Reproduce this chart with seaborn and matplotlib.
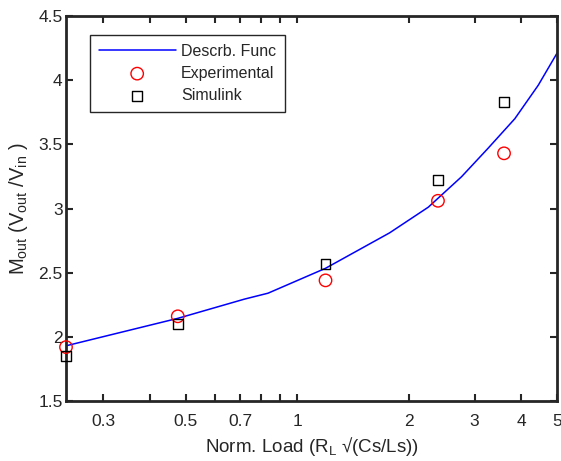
import matplotlib
matplotlib.use("Agg")
import matplotlib.pyplot as plt
import matplotlib.ticker as mticker
import seaborn as sns
import pandas as pd

# Describing-function curve
df_x = [0.238, 0.476, 0.72, 0.833, 1.19, 1.77, 2.25, 2.765, 3.26, 3.85, 4.45, 5.0]
df_y = [1.93, 2.144, 2.294, 2.34, 2.534, 2.81, 3.01, 3.247, 3.469, 3.70, 3.96, 4.21]

# Measured points
load_x = [0.238, 0.476, 1.19, 2.39, 3.6]
exp_y = [1.92, 2.16, 2.44, 3.06, 3.43]
sim_y = [1.85, 2.10, 2.565, 3.22, 3.83]

x_ticks = [0.3, 0.4, 0.5, 0.6, 0.7, 0.8, 0.9, 1, 2, 3, 4, 5]
x_labels = ["0.3", "", "0.5", "", "0.7", "", "", "1", "2", "3", "4", "5"]
y_ticks = [1.5, 2, 2.5, 3, 3.5, 4, 4.5]
y_labels = ["1.5", "2", "2.5", "3", "3.5", "4", "4.5"]

sns.set_theme(style="ticks")
plt.rcParams["font.family"] = ["Liberation Sans", "DejaVu Sans"]
plt.rcParams["mathtext.default"] = "regular"
plt.rcParams["mathtext.fontset"] = "custom"
plt.rcParams["mathtext.rm"] = "Liberation Sans"

txt = "#262626"
fig = plt.figure(figsize=(5.61, 4.61), dpi=100)
ax = fig.add_axes([66/561, 1 - 401/461, (557-66)/561, (401-16)/461])

line_df = pd.DataFrame({"x": df_x, "y": df_y})
sns.lineplot(data=line_df, x="x", y="y", ax=ax, color="#0000ff", lw=1.1,
             label="Descrb. Func", sort=False)
sns.scatterplot(x=load_x, y=exp_y, ax=ax, marker="o", s=80, facecolors="none",
                edgecolor="#ff0000", linewidth=1.0, label="Experimental", clip_on=False, zorder=3)
sns.scatterplot(x=load_x, y=sim_y, ax=ax, marker="s", s=50, facecolors="none",
                edgecolor="black", linewidth=1.0, label="Simulink", clip_on=False, zorder=3)

ax.set_xscale("log")
ax.set_xlim(0.238, 5)
ax.set_ylim(1.5, 4.5)
ax.xaxis.set_major_locator(mticker.FixedLocator(x_ticks))
ax.xaxis.set_major_formatter(mticker.FixedFormatter(x_labels))
ax.xaxis.set_minor_locator(mticker.NullLocator())
ax.set_yticks(y_ticks)
ax.set_yticklabels(y_labels)

ax.tick_params(direction="in", length=5, width=1.5, top=True, right=True,
               labelsize=12.5, colors=txt)
ax.tick_params(axis="x", pad=9)
ax.tick_params(axis="y", pad=2.5)
for s in ax.spines.values():
    s.set_visible(True)
    s.set_linewidth(2)
    s.set_color(txt)

ax.set_xlabel("Norm. Load (R$_{L}$ √(Cs/Ls))", fontsize=13.5, color=txt, labelpad=5)
ax.set_ylabel("M$_{out}$ (V$_{out}$ /V$_{in}$ )", fontsize=14.5, color=txt, labelpad=6)
ax.grid(False)

leg = ax.legend(loc="upper left", bbox_to_anchor=(0.049, 0.951), borderaxespad=0,
                fancybox=False, framealpha=1, edgecolor=txt, fontsize=11.5,
                handlelength=4.8, handletextpad=0.35, scatterpoints=1,
                labelspacing=0.45, borderpad=0.55)
leg.get_frame().set_linewidth(1.0)
for t in leg.get_texts():
    t.set_color(txt)

fig.savefig("out.png", dpi=100)
